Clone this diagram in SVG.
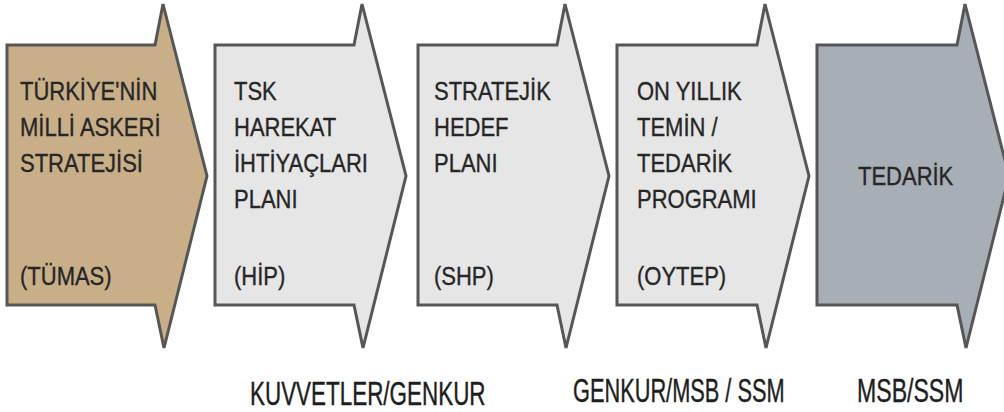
<svg xmlns="http://www.w3.org/2000/svg" width="1004" height="412" viewBox="0 0 1004 412">
<style>
.arr{stroke:#565656;stroke-width:3;stroke-linejoin:miter}
.t{font-family:"Liberation Sans",Arial,sans-serif;font-size:25px;fill:#262626;stroke:#262626;stroke-width:0.35}
.b{font-family:"Liberation Sans",Arial,sans-serif;font-size:33px;fill:#1e1e1e;stroke:#1e1e1e;stroke-width:0.4}
</style>
<rect width="1004" height="412" fill="#ffffff"/>
<g id="n1">
<polygon class="arr" fill="#c9af88" points="7,45 155,45 163,4 207,176 164,348 155,305 7,305"/>
<text class="t" transform="translate(20,0) scale(0.88,1)"><tspan x="0" y="100">TÜRKİYE'NİN</tspan><tspan x="0" y="136">MİLLİ ASKERİ</tspan><tspan x="0" y="172">STRATEJİSİ</tspan><tspan x="0" y="285">(TÜMAS)</tspan></text>
</g>
<g id="n2">
<polygon class="arr" fill="#e6e6e6" points="215,45 354,45 362,4 406,176 363,348 354,305 215,305"/>
<text class="t" transform="translate(234,0) scale(0.88,1)"><tspan x="0" y="100">TSK</tspan><tspan x="0" y="136">HAREKAT</tspan><tspan x="0" y="172">İHTİYAÇLARI</tspan><tspan x="0" y="208">PLANI</tspan><tspan x="0" y="285">(HİP)</tspan></text>
</g>
<g id="n3">
<polygon class="arr" fill="#e6e6e6" points="418,45 557,45 565,4 609,176 566,348 557,305 418,305"/>
<text class="t" transform="translate(434,0) scale(0.88,1)"><tspan x="0" y="100">STRATEJİK</tspan><tspan x="0" y="136">HEDEF</tspan><tspan x="0" y="172">PLANI</tspan><tspan x="0" y="285">(SHP)</tspan></text>
</g>
<g id="n4">
<polygon class="arr" fill="#e6e6e6" points="617,45 757,45 765,4 809,176 766,348 757,305 617,305"/>
<text class="t" transform="translate(637,0) scale(0.88,1)"><tspan x="0" y="100">ON YILLIK</tspan><tspan x="0" y="136">TEMİN /</tspan><tspan x="0" y="172">TEDARİK</tspan><tspan x="0" y="208">PROGRAMI</tspan><tspan x="0" y="285">(OYTEP)</tspan></text>
</g>
<g id="n5">
<polygon class="arr" fill="#a8aeb5" points="817,45 957,45 965,4 1009,176 966,348 957,305 817,305"/>
<text class="t" transform="translate(858,0) scale(0.88,1)"><tspan x="0" y="185">TEDARİK</tspan></text>
</g>
<g id="labels">
<text class="b" transform="translate(250,0) scale(0.68,1)" x="0" y="405">KUVVETLER/GENKUR</text>
<text class="b" transform="translate(573,0) scale(0.66,1)" x="0" y="402">GENKUR/MSB / SSM</text>
<text class="b" transform="translate(857,0) scale(0.70,1)" x="0" y="402">MSB/SSM</text>
</g>
<g id="connectors"/>
</svg>
